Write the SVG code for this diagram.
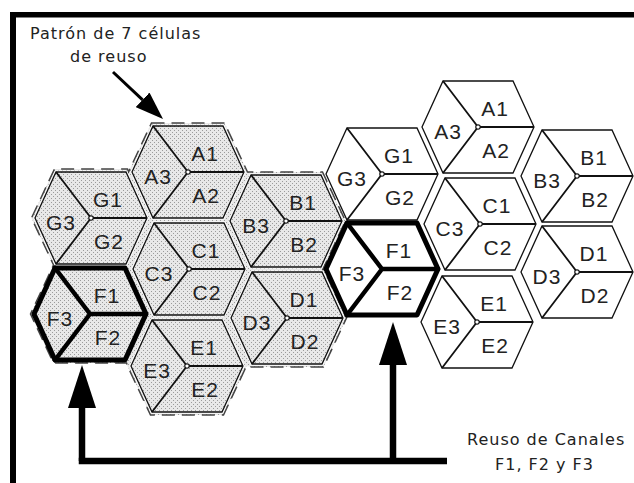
<svg xmlns="http://www.w3.org/2000/svg" width="634" height="483" viewBox="0 0 634 483">
<style>
.hs{fill:url(#stip);stroke:#111;stroke-width:1.3;stroke-linejoin:miter}
.hw{fill:#fff;stroke:#111;stroke-width:1.3;stroke-linejoin:miter}
.gap{fill:none;stroke:#fff;stroke-width:3.2}
.sl{fill:none;stroke:#111;stroke-width:1.8}
.hT{stroke:#000;stroke-width:5;stroke-linejoin:round}
.slT{fill:none;stroke:#000;stroke-width:4.5;stroke-linejoin:round;stroke-linecap:round}
.dot{fill:#fff;stroke:#111;stroke-width:1.2}
.lb{font-family:"Liberation Sans",Arial,sans-serif;font-size:21px;fill:#222;text-anchor:middle;letter-spacing:1px}
.cap{font-family:"DejaVu Sans",Verdana,sans-serif;font-size:16px;fill:#222;letter-spacing:1px}
.halo{fill:url(#stip);stroke:#444;stroke-width:1.5;stroke-dasharray:13 7}
.conn{fill:none;stroke:#000;stroke-width:6.5}
.conn2{fill:none;stroke:#000;stroke-width:3}
</style>
<defs>
<pattern id="stip" patternUnits="userSpaceOnUse" width="4" height="4">
<rect width="4" height="4" fill="#e8e8e8"/>
<rect x="0" y="0" width="1" height="1" fill="#9a9a9a"/>
<rect x="2" y="2" width="1" height="1" fill="#9a9a9a"/>
</pattern>
<polygon id="hx" points="56,0 35,-46 -35,-46 -56,0 -35,46 35,46"/>
<path id="sect" d="M-35,-46 L0,0 L-35,46 M0,0 L56,0"/>
<marker id="ah" viewBox="0 0 43 28" refX="0" refY="14" markerWidth="43" markerHeight="28" markerUnits="userSpaceOnUse" orient="auto">
<path d="M0,0 L43,14 L0,28 Z" fill="#000"/>
</marker>
<marker id="ah2" viewBox="0 0 28 20" refX="0" refY="10" markerWidth="28" markerHeight="20" markerUnits="userSpaceOnUse" orient="auto">
<path d="M0,0 L28,10 L0,20 Z" fill="#000"/>
</marker>
</defs>
<rect width="634" height="483" fill="#fff"/>
<!-- frame -->
<rect x="10" y="12" width="624" height="5.5" fill="#000"/>
<rect x="10" y="12" width="6" height="471" fill="#000"/>

<!-- left cluster halo -->
<polygon class="halo" points="151.5,123 224.5,123 247.5,172 249.5,172 322.5,172 345.5,221 322.5,270 323.5,269 346.5,318 323.5,367 250.5,367 246.5,366 223.5,415 150.5,415 127.5,366 126.5,363 53.5,363 30.5,314 53.5,265 54.5,267 31.5,218 54.5,169 127.5,169 128.5,172"/>
<g id="left-gaps">
<use href="#hx" class="gap" transform="translate(188,172)"/>
<use href="#hx" class="gap" transform="translate(91,218)"/>
<use href="#hx" class="gap" transform="translate(286,221)"/>
<use href="#hx" class="gap" transform="translate(189,269)"/>
<use href="#hx" class="gap" transform="translate(287,318)"/>
<use href="#hx" class="gap" transform="translate(90,314)"/>
<use href="#hx" class="gap" transform="translate(187,366)"/>
</g>

<g id="L-A" transform="translate(188,172)"><use href="#hx" class="hs"/><use href="#sect" class="sl"/><circle r="2.2" class="dot"/><text class="lb" x="17" y="-11">A1</text><text class="lb" x="18" y="31">A2</text><text class="lb" x="-30" y="12">A3</text></g>
<g id="L-G" transform="translate(91,218)"><use href="#hx" class="hs"/><use href="#sect" class="sl"/><circle r="2.2" class="dot"/><text class="lb" x="17" y="-11">G1</text><text class="lb" x="18" y="31">G2</text><text class="lb" x="-30" y="12">G3</text></g>
<g id="L-B" transform="translate(286,221)"><use href="#hx" class="hs"/><use href="#sect" class="sl"/><circle r="2.2" class="dot"/><text class="lb" x="17" y="-11">B1</text><text class="lb" x="18" y="31">B2</text><text class="lb" x="-30" y="12">B3</text></g>
<g id="L-C" transform="translate(189,269)"><use href="#hx" class="hs"/><use href="#sect" class="sl"/><circle r="2.2" class="dot"/><text class="lb" x="17" y="-11">C1</text><text class="lb" x="18" y="31">C2</text><text class="lb" x="-30" y="12">C3</text></g>
<g id="L-D" transform="translate(287,318)"><use href="#hx" class="hs"/><use href="#sect" class="sl"/><circle r="2.2" class="dot"/><text class="lb" x="17" y="-11">D1</text><text class="lb" x="18" y="31">D2</text><text class="lb" x="-30" y="12">D3</text></g>
<g id="L-E" transform="translate(187,366)"><use href="#hx" class="hs"/><use href="#sect" class="sl"/><circle r="2.2" class="dot"/><text class="lb" x="17" y="-11">E1</text><text class="lb" x="18" y="31">E2</text><text class="lb" x="-30" y="12">E3</text></g>
<g id="L-F" transform="translate(90,314)"><use href="#hx" class="hs hT"/><use href="#sect" class="slT"/><text class="lb" x="17" y="-11">F1</text><text class="lb" x="18" y="31">F2</text><text class="lb" x="-30" y="12">F3</text></g>

<!-- right cluster -->
<g id="R-G" transform="translate(382,174)"><use href="#hx" class="hw"/><use href="#sect" class="sl"/><circle r="2.2" class="dot"/><text class="lb" x="17" y="-11">G1</text><text class="lb" x="18" y="31">G2</text><text class="lb" x="-30" y="12">G3</text></g>
<g id="R-A" transform="translate(478,127)"><use href="#hx" class="hw"/><use href="#sect" class="sl"/><circle r="2.2" class="dot"/><text class="lb" x="17" y="-11">A1</text><text class="lb" x="18" y="31">A2</text><text class="lb" x="-30" y="12">A3</text></g>
<g id="R-B" transform="translate(577,176)"><use href="#hx" class="hw"/><use href="#sect" class="sl"/><circle r="2.2" class="dot"/><text class="lb" x="17" y="-11">B1</text><text class="lb" x="18" y="31">B2</text><text class="lb" x="-30" y="12">B3</text></g>
<g id="R-C" transform="translate(480,224)"><use href="#hx" class="hw"/><use href="#sect" class="sl"/><circle r="2.2" class="dot"/><text class="lb" x="17" y="-11">C1</text><text class="lb" x="18" y="31">C2</text><text class="lb" x="-30" y="12">C3</text></g>
<g id="R-D" transform="translate(577,272)"><use href="#hx" class="hw"/><use href="#sect" class="sl"/><circle r="2.2" class="dot"/><text class="lb" x="17" y="-11">D1</text><text class="lb" x="18" y="31">D2</text><text class="lb" x="-30" y="12">D3</text></g>
<g id="R-E" transform="translate(477,322)"><use href="#hx" class="hw"/><use href="#sect" class="sl"/><circle r="2.2" class="dot"/><text class="lb" x="17" y="-11">E1</text><text class="lb" x="18" y="31">E2</text><text class="lb" x="-30" y="12">E3</text></g>
<g id="R-F" transform="translate(382,269)"><use href="#hx" class="hw hT"/><use href="#sect" class="slT"/><text class="lb" x="17" y="-11">F1</text><text class="lb" x="18" y="31">F2</text><text class="lb" x="-30" y="12">F3</text></g>

<!-- connectors -->
<g id="connectors">
<path class="conn2" d="M113,72 L142.6,99.8" marker-end="url(#ah2)"/>
<path class="conn" d="M82,461 L82,408" marker-end="url(#ah)"/>
<path class="conn" d="M393,461 L393,365" marker-end="url(#ah)"/>
<path class="conn" d="M78.75,461 L447,461"/>
</g>

<!-- captions -->
<g id="caption-top">
<text class="cap" x="30" y="39">Patrón de 7 células</text>
<text class="cap" x="70" y="62">de reuso</text>
</g>
<g id="caption-bottom">
<text class="cap" x="467" y="445">Reuso de Canales</text>
<text class="cap" x="495" y="470">F1, F2 y F3</text>
</g>
</svg>
